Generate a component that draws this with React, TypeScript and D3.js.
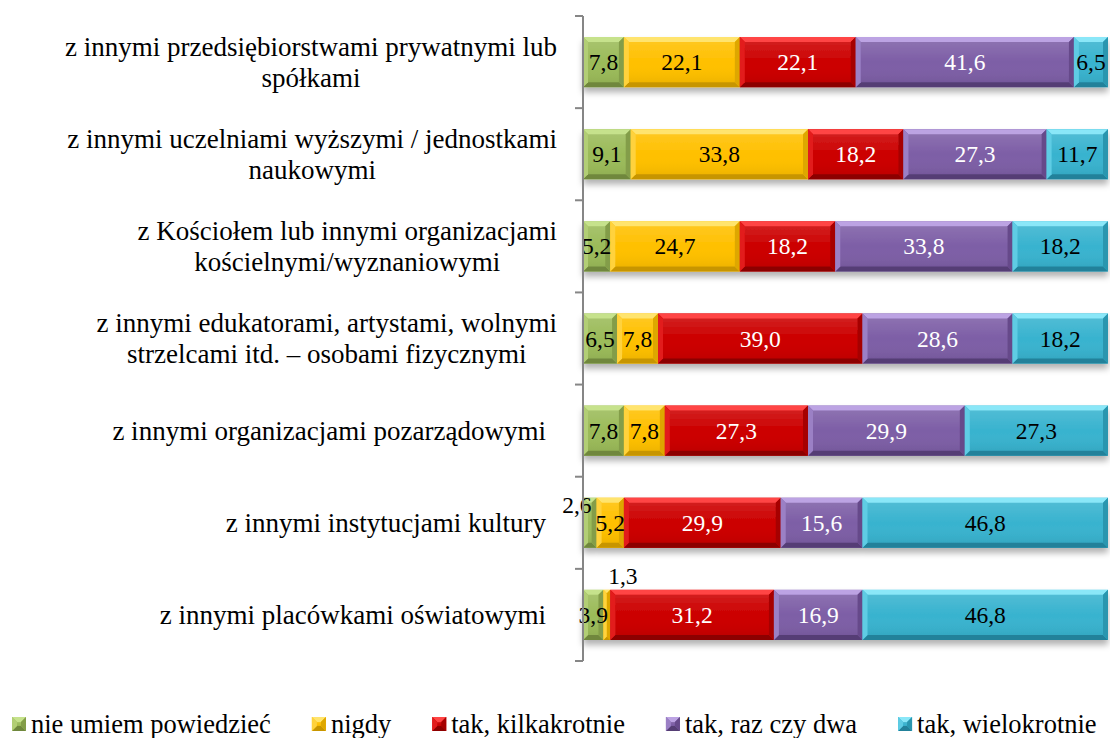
import React from "react";
import * as d3 from "d3";

const categories = [
  "z innymi przedsiębiorstwami prywatnymi lub\nspółkami",
  "z innymi uczelniami wyższymi / jednostkami\nnaukowymi",
  "z Kościołem lub innymi organizacjami\nkościelnymi/wyznaniowymi",
  "z innymi edukatorami, artystami, wolnymi\nstrzelcami itd. – osobami fizycznymi",
  "z innymi organizacjami pozarządowymi",
  "z innymi instytucjami kultury",
  "z innymi placówkami oświatowymi",
];

const seriesNames = [
  "nie umiem powiedzieć",
  "nigdy",
  "tak, kilkakrotnie",
  "tak, raz czy dwa",
  "tak, wielokrotnie",
];

const nieUmiem = [7.8, 9.1, 5.2, 6.5, 7.8, 2.6, 3.9];
const nigdy = [22.1, 33.8, 24.7, 7.8, 7.8, 5.2, 1.3];
const kilkakrotnie = [22.1, 18.2, 18.2, 39.0, 27.3, 29.9, 31.2];
const razCzyDwa = [41.6, 27.3, 33.8, 28.6, 29.9, 15.6, 16.9];
const wielokrotnie = [6.5, 11.7, 18.2, 18.2, 27.3, 46.8, 46.8];

const seriesValues = [nieUmiem, nigdy, kilkakrotnie, razCzyDwa, wielokrotnie];

// bevel shades: main, top, bottom, left, right, label colour
const palette = [
  { main: "#9bbb59", top: "#c6e28c", bottom: "#6f873d", left: "#b2ce74", right: "#839d48", text: "#000" },
  { main: "#ffc000", top: "#ffe46e", bottom: "#c79500", left: "#ffd23c", right: "#dea700", text: "#000" },
  { main: "#cc0000", top: "#ff4545", bottom: "#8c0000", left: "#e21c1c", right: "#a60000", text: "#fff" },
  { main: "#7d5ea6", top: "#bca3e3", bottom: "#553e74", left: "#9b80c5", right: "#664a8a", text: "#fff" },
  { main: "#38b3cf", top: "#8ae7f8", bottom: "#22819a", left: "#5ecce4", right: "#2a96af", text: "#000" },
];

// labels Excel pushed outside tiny segments: [row, series] -> offset
const labelNudge: Record<string, [number, number]> = {
  "5-0": [-13, -18],
  "6-1": [16, -39],
};

const W = 1110;
const H = 738;
const FONT = '"Liberation Serif", "Times New Roman", serif';
const axisX = 583;
const plotRight = 1108;
const plotTop = 16;
const plotBottom = 661;

const fmt = (v: number) => d3.format(".1f")(v).replace(".", ",");

let ctx: CanvasRenderingContext2D | null = null;
const textWidth = (s: string, size: number) => {
  if (!ctx) ctx = document.createElement("canvas").getContext("2d");
  if (!ctx) return s.length * size * 0.45;
  ctx.font = `${size}px "Liberation Serif"`;
  return ctx.measureText(s).width;
};

const Segment = ({ x0, x1, y0, y1, c }: any) => {
  const w = x1 - x0;
  const b = Math.min(5, w / 2, (y1 - y0) / 2);
  const pts = (p: number[][]) => p.map((d) => d.join(",")).join(" ");
  return (
    <g>
      <rect x={x0} y={y0} width={w} height={y1 - y0} fill={c.main} />
      <polygon points={pts([[x0, y0], [x1, y0], [x1 - b, y0 + b], [x0 + b, y0 + b]])} fill={c.top} />
      <polygon points={pts([[x0, y1], [x1, y1], [x1 - b, y1 - b], [x0 + b, y1 - b]])} fill={c.bottom} />
      <polygon points={pts([[x0, y0], [x0 + b, y0 + b], [x0 + b, y1 - b], [x0, y1]])} fill={c.left} />
      <polygon points={pts([[x1, y0], [x1 - b, y0 + b], [x1 - b, y1 - b], [x1, y1]])} fill={c.right} />
      <rect x={x0 + b} y={y0 + b} width={Math.max(0, w - 2 * b)} height={Math.max(0, y1 - y0 - 2 * b)} fill="url(#sheen)" />
    </g>
  );
};

export default function App() {
  const y = d3
    .scaleBand()
    .domain(categories)
    .range([plotTop, plotBottom])
    .paddingInner(0.456)
    .paddingOuter(0.228);

  const x = d3.scaleLinear().domain([0, 100]).range([axisX, plotRight]);

  const step = y.step();
  const tickYs = d3.range(categories.length + 1).map((i) => plotTop + i * step);

  // stack each row and normalise to 100%
  const rows = categories.map((cat, r) => {
    const vals = seriesValues.map((s) => s[r]);
    const total = d3.sum(vals);
    let acc = 0;
    return vals.map((v, si) => {
      const a = acc;
      acc += v;
      return { cat, r, si, v, p0: (a / total) * 100, p1: (acc / total) * 100 };
    });
  });

  // legend layout
  const legendSize = 26.5;
  let lx = 12;
  const legend = seriesNames.map((name, i) => {
    const item = { name, i, x: lx };
    lx += 19 + textWidth(name, legendSize) + 41;
    return item;
  });

  const catSize = 27;
  const lineH = 31;
  const labelRight = 557;

  return (
    <svg width={W} height={H} style={{ position: "absolute", left: 0, top: 0, background: "#fff", fontFamily: FONT }}>
      <defs>
        <filter id="shadow" x="-5%" y="-30%" width="110%" height="180%">
          <feDropShadow dx="0" dy="5" stdDeviation="3" floodColor="#000" floodOpacity="0.3" />
        </filter>
        <linearGradient id="sheen" x1="0" y1="0" x2="0" y2="1">
          <stop offset="0" stopColor="#fff" stopOpacity="0.12" />
          <stop offset="0.5" stopColor="#fff" stopOpacity="0" />
          <stop offset="1" stopColor="#000" stopOpacity="0.06" />
        </linearGradient>
      </defs>

      {/* category labels */}
      {categories.map((cat) => {
        const lines = cat.split("\n");
        const cy = (y(cat) as number) + y.bandwidth() / 2;
        const widths = lines.map((l) => textWidth(l, catSize));
        const maxW = d3.max(widths) as number;
        const right = lines.length > 1 ? labelRight : labelRight - 11;
        const cx = right - maxW / 2;
        return (
          <text key={cat} fontSize={catSize} textAnchor="middle" fill="#000">
            {lines.map((l, i) => (
              <tspan key={i} x={cx} y={cy + (i - (lines.length - 1) / 2) * lineH} dominantBaseline="central">
                {l}
              </tspan>
            ))}
          </text>
        );
      })}

      {/* bars */}
      {rows.map((segs, r) => (
        <g key={r} filter="url(#shadow)">
          {segs.map((s) => (
            <Segment
              key={s.si}
              x0={x(s.p0)}
              x1={x(s.p1)}
              y0={y(s.cat) as number}
              y1={(y(s.cat) as number) + y.bandwidth()}
              c={palette[s.si]}
            />
          ))}
        </g>
      ))}

      {/* data labels */}
      {rows.map((segs) =>
        segs.map((s) => {
          const nudge = labelNudge[`${s.r}-${s.si}`];
          const cx = x((s.p0 + s.p1) / 2) + (nudge ? nudge[0] : 0);
          const cy = (y(s.cat) as number) + y.bandwidth() / 2 + (nudge ? nudge[1] : 0);
          return (
            <text
              key={`${s.r}-${s.si}`}
              x={cx}
              y={cy}
              fontSize={23.5}
              textAnchor="middle"
              dominantBaseline="central"
              fill={nudge ? "#000" : palette[s.si].text}
            >
              {fmt(s.v)}
            </text>
          );
        })
      )}

      {/* axis */}
      <g stroke="#868686" strokeWidth={2}>
        <line x1={axisX} x2={axisX} y1={plotTop} y2={plotBottom} />
        {tickYs.map((t, i) => (
          <line key={i} x1={axisX - 8} x2={axisX} y1={t} y2={t} />
        ))}
      </g>

      {/* legend */}
      {legend.map((it) => (
        <g key={it.name}>
          <Segment x0={it.x} x1={it.x + 14} y0={717} y1={731} c={palette[it.i]} />
          <text x={it.x + 19} y={724} fontSize={legendSize} dominantBaseline="central" fill="#000">
            {it.name}
          </text>
        </g>
      ))}
    </svg>
  );
}
